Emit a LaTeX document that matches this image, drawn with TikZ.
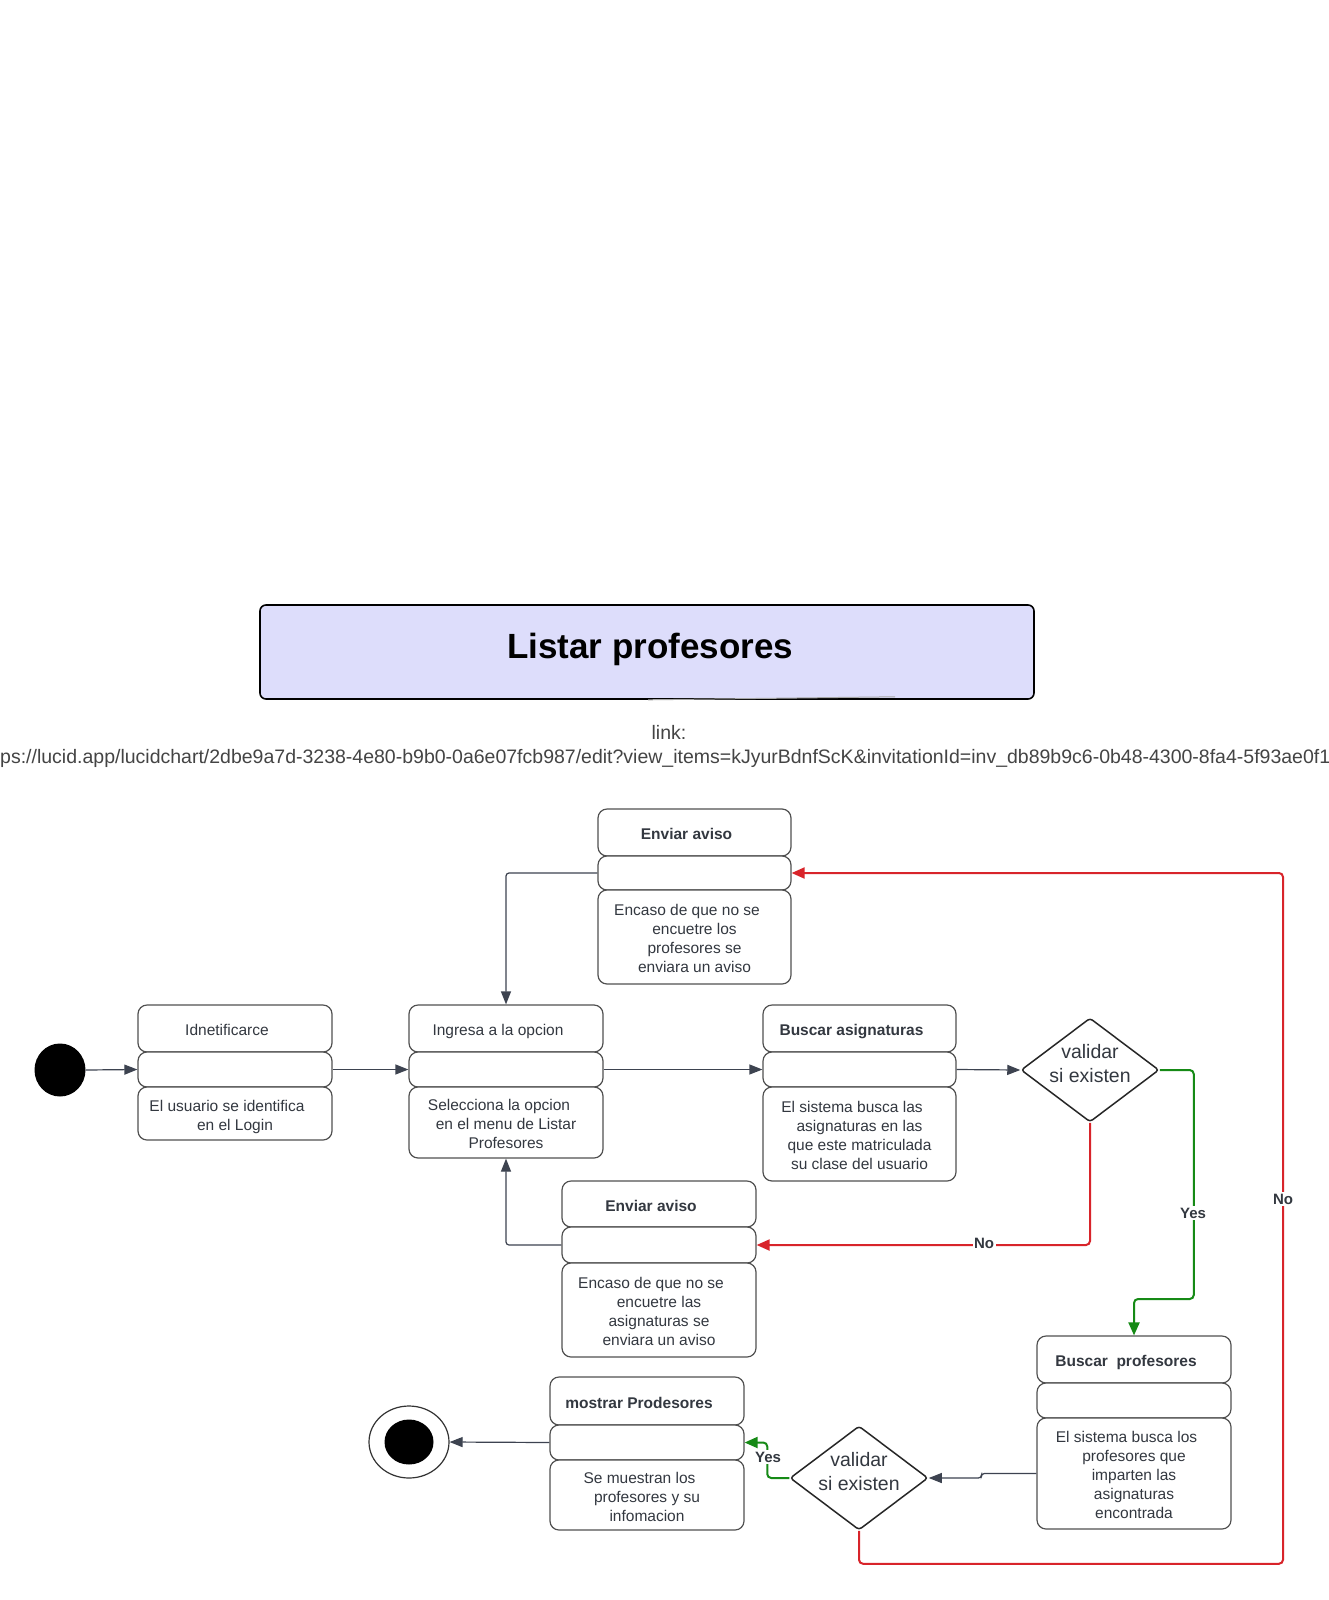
\documentclass[tikz,border=0pt]{standalone}
\usepackage{fontspec}
\setmainfont{Liberation Sans}
\usetikzlibrary{arrows.meta,shapes.geometric}
\definecolor{txtcol}{RGB}{51,56,64}
\definecolor{conncol}{RGB}{61,67,80}
\definecolor{bordcol}{RGB}{80,80,80}
\definecolor{redcol}{RGB}{216,36,42}
\definecolor{greencol}{RGB}{22,138,22}
\definecolor{titlefill}{RGB}{221,221,251}
\definecolor{linkcol}{RGB}{68,68,68}
\tikzset{
 sect/.style={draw=bordcol, line width=1.2pt, rounded corners=9pt, fill=white, inner sep=0pt},
 ttl/.style={text=txtcol, font=\fontsize{15.5}{19}\selectfont, inner sep=0pt, text height=11.5pt, text depth=3.5pt},
 desc/.style={text=txtcol, font=\fontsize{15.5}{19}\selectfont, align=center, inner sep=0pt, text depth=3.5pt},
 dia/.style={diamond, draw=black!85, line width=1.5pt, inner sep=0pt, rounded corners=3pt, fill=white},
 dtxt/.style={text=txtcol, font=\fontsize{19.5}{24}\selectfont, align=center, inner sep=0pt},
 connarrow/.style={draw=conncol, line width=1.2pt, rounded corners=3pt, -{Triangle[length=13pt,width=10pt]}},
 redarrow/.style={draw=redcol, line width=2pt, rounded corners=4pt, -{Triangle[length=13pt,width=11pt]}},
 greenarrow/.style={draw=greencol, line width=2pt, rounded corners=4pt, -{Triangle[length=13pt,width=11pt]}},
 lbl/.style={fill=white, text=txtcol, font=\bfseries\fontsize{15}{18}\selectfont, inner sep=1.5pt}
}
\newcommand{\stbox}[9]{%
 \node[sect, minimum width={#3-#2}, minimum height={#5-#4}] (#1t) at ({(#2+#3)/2},{(#4+#5)/2}) {};
 \node[sect, minimum width={#3-#2}, minimum height={#6-#5}] (#1m) at ({(#2+#3)/2},{(#5+#6)/2}) {};
 \node[sect, minimum width={#3-#2}, minimum height={#7-#6}] (#1b) at ({(#2+#3)/2},{(#6+#7)/2}) {};
 \node[ttl] (#1tt) at ([xshift=-8pt,yshift=-3pt]#1t.center) {#8};
 \node[desc] (#1bt) at ([yshift=-3.5pt]#1b.center) {#9};
}
\begin{document}
\begin{tikzpicture}[x=1pt,y=-1pt]
\useasboundingbox[fill=white] (0,0) rectangle (1329,1600);

% title
\node[draw=black, line width=1.6pt, fill=titlefill, rounded corners=6pt, minimum width=774, minimum height=94, inner sep=0pt] (title) at (647,652) {};
\node[font=\bfseries\fontsize{35}{40}\selectfont, inner sep=0pt] (titletext) at (650,649) {Listar profesores};
\draw[gray!70, line width=1pt] ([xshift=1pt]title.south) ++(0,0) coordinate (gl1) -- ++(247,-3) coordinate (gl2);

% link
\node[text=linkcol, font=\fontsize{19.5}{22}\selectfont, inner sep=0pt] (linklbl) at (669,732) {link:};
\node[text=linkcol, font=\fontsize{19.5}{22}\selectfont, inner sep=0pt, anchor=west] (url) at (0,758) {ps://lucid.app/lucidchart/2dbe9a7d-3238-4e80-b9b0-0a6e07fcb987/edit?view\_items=kJyurBdnfScK\&invitationId=inv\_db89b9c6-0b48-4300-8fa4-5f93ae0f1};

% start
\node[ellipse, fill=black, minimum width=51, minimum height=53, inner sep=0pt] (startc) at (60,1070) {};

% boxes
\stbox{ba}{138}{332}{1005}{1052}{1087}{1140}{Idnetificarce}{El usuario se identifica\kern16pt\\en el Login}
\stbox{bb}{409}{603}{1005}{1052}{1087}{1158}{Ingresa a la opcion}{Selecciona la opcion\kern14pt\\en el menu de Listar\\Profesores}
\stbox{bc}{763}{956}{1005}{1052}{1087}{1181}{\bfseries Buscar asignaturas}{El sistema busca las\kern15pt\\asignaturas en las\\que este matriculada\\su clase del usuario}
\stbox{ea}{598}{791}{809}{856}{890}{984}{\bfseries Enviar aviso}{Encaso de que no se\kern15pt\\encuetre los\\profesores se\\enviara un aviso}
\stbox{eb}{562}{756}{1181}{1227}{1263}{1357}{\bfseries Enviar aviso}{Encaso de que no se\kern16pt\\encuetre las\\asignaturas se\\enviara un aviso}
\stbox{bp}{1037}{1231}{1336}{1383}{1418}{1529}{\bfseries Buscar\ \ profesores}{El sistema busca los\kern15pt\\profesores que\\imparten las\\asignaturas\\encontrada}
\stbox{mp}{550}{744}{1377}{1425}{1460}{1530}{\bfseries mostrar Prodesores}{Se muestran los\kern15pt\\profesores y su\\infomacion}

% diamonds
\node[dia, minimum width=138, minimum height=104] (da) at (1090,1070) {};
\node[dtxt] (datext) at ([yshift=6pt]da.center) {validar\\si existen};
\node[dia, minimum width=138, minimum height=104] (db) at (859,1478) {};
\node[dtxt] (dbtext) at ([yshift=6pt]db.center) {validar\\si existen};

% end
\node[ellipse, draw=black!80, line width=1.2pt, minimum width=80, minimum height=72, inner sep=0pt] (endc) at (409,1442) {};
\node[ellipse, fill=black, minimum width=49, minimum height=45, inner sep=0pt] (endin) at (endc.center) {};

% connectors
\draw[connarrow] (startc.east) -- (bam.west);
\draw[connarrow] (bam.east) -- (bbm.west);
\draw[connarrow] (bbm.east) -- (bcm.west);
\draw[connarrow] (bcm.east) -- (da.west);
\draw[connarrow] (eam.west) -| (bbt.north);
\draw[connarrow] (ebm.west) -| (bbb.south);
\draw[connarrow] (bpb.west) -- ++(-55,0) |- (db.east);
\draw[connarrow] (mpm.west) -- (endc.east);

\draw[greenarrow] (da.east) -- ++(34,0) -- ++(0,229) -| (bpt.north);
\node[lbl] (yes1) at (1193,1213) {Yes};
\draw[redarrow] (da.south) |- (ebm.east);
\node[lbl] (no1) at (984,1243) {No};
\draw[redarrow] (db.south) |- ++(424,33) |- (eam.east);
\node[lbl] (no2) at (1283,1199) {No};
\draw[greenarrow] (db.west) -- ++(-22,0) |- (mpm.east);
\node[lbl] (yes2) at (768,1457) {Yes};
\end{tikzpicture}
\end{document}
